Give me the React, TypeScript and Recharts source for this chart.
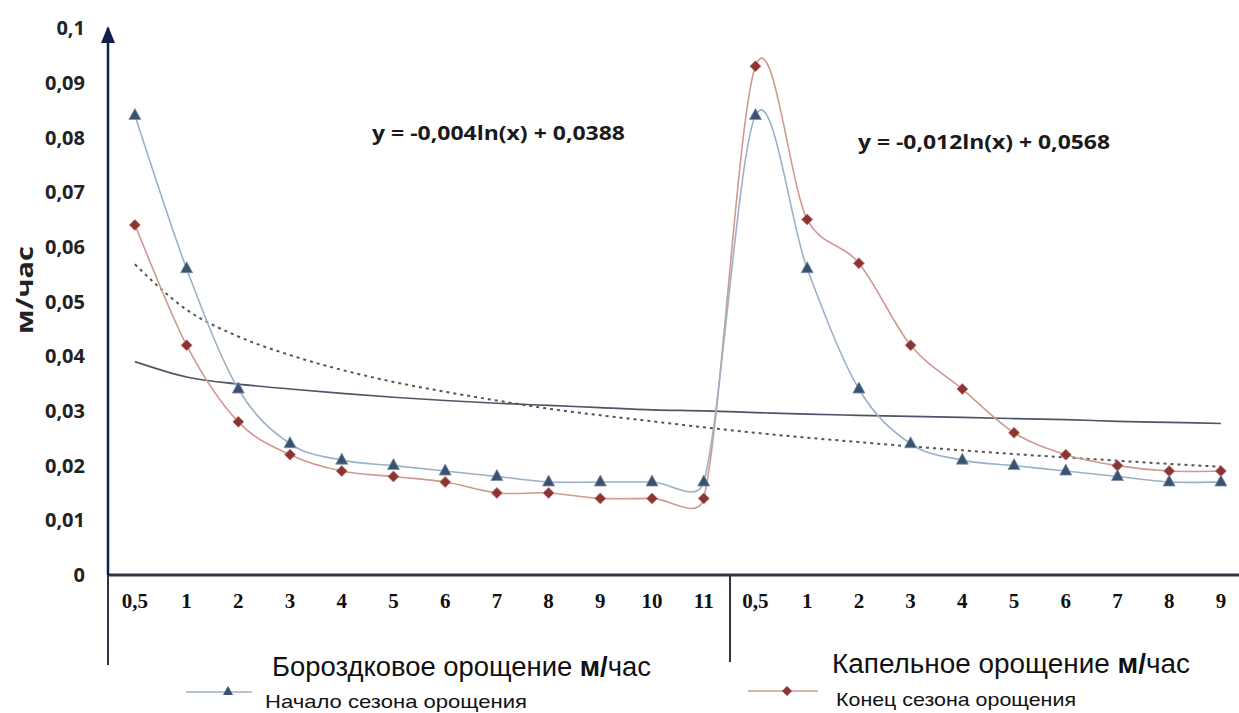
import { LineChart, Line, XAxis, YAxis } from 'recharts';

// x positions: two groups of hours (furrow 0,5..11 / drip 0,5..9)
const X_LABELS = ['0,5', '1', '2', '3', '4', '5', '6', '7', '8', '9', '10', '11', '0,5', '1', '2', '3', '4', '5', '6', '7', '8', '9'];
const IDX = X_LABELS.map((_, i) => i);

// start of irrigation season (triangles)
const START = [0.084, 0.056, 0.034, 0.024, 0.021, 0.02, 0.019, 0.018, 0.017, 0.017, 0.017, 0.017, 0.084, 0.056, 0.034, 0.024, 0.021, 0.02, 0.019, 0.018, 0.017, 0.017];
// end of irrigation season (diamonds)
const END = [0.064, 0.042, 0.028, 0.022, 0.019, 0.018, 0.017, 0.015, 0.015, 0.014, 0.014, 0.014, 0.093, 0.065, 0.057, 0.042, 0.034, 0.026, 0.022, 0.02, 0.019, 0.019];
// trend lines
const TREND_SOLID = [0.039, 0.0362, 0.0349, 0.034, 0.0332, 0.0325, 0.0319, 0.0314, 0.031, 0.0306, 0.0302, 0.03, 0.0297, 0.0294, 0.0292, 0.029, 0.0288, 0.0286, 0.0284, 0.0281, 0.0279, 0.0277];
const TREND_DASHED = [0.0568, 0.0485, 0.0436, 0.0402, 0.0375, 0.0353, 0.0335, 0.0319, 0.0304, 0.0292, 0.0281, 0.027, 0.026, 0.0251, 0.0243, 0.0235, 0.0228, 0.0221, 0.0215, 0.0209, 0.0203, 0.0198];

const Y_TICKS = [0, 0.01, 0.02, 0.03, 0.04, 0.05, 0.06, 0.07, 0.08, 0.09, 0.1];

const data = IDX.map((i) => ({
  idx: i,
  start: START[i],
  end: END[i],
  trendSolid: TREND_SOLID[i],
  trendDashed: TREND_DASHED[i],
}));

// Excel-like smoothing: Catmull-Rom with control arms capped by the segment length
const smooth = (context: any) => {
  let pts: [number, number][] = [];
  const arm = (dx: number, dy: number, max: number): [number, number] => {
    const len = Math.hypot(dx, dy);
    if (len <= max || len === 0) return [dx, dy];
    return [(dx * max) / len, (dy * max) / len];
  };
  return {
    areaStart() {},
    areaEnd() {},
    lineStart() {
      pts = [];
    },
    point(x: number, y: number) {
      pts.push([+x, +y]);
    },
    lineEnd() {
      const n = pts.length;
      if (!n) return;
      context.moveTo(pts[0][0], pts[0][1]);
      for (let i = 0; i < n - 1; i++) {
        const p0 = pts[i - 1] || pts[i];
        const p1 = pts[i];
        const p2 = pts[i + 1];
        const p3 = pts[i + 2] || p2;
        const seg = Math.hypot(p2[0] - p1[0], p2[1] - p1[1]) * 0.45;
        const a = arm((p2[0] - p0[0]) / 6, (p2[1] - p0[1]) / 6, seg);
        const b = arm((p3[0] - p1[0]) / 6, (p3[1] - p1[1]) / 6, seg);
        context.bezierCurveTo(p1[0] + a[0], p1[1] + a[1], p2[0] - b[0], p2[1] - b[1], p2[0], p2[1]);
      }
    },
  };
};

const fmtY = (v: number) => (v === 0 ? '0' : v.toFixed(2).replace(/0$/, '').replace('.', ','));

const triangleDot = (props: any) => {
  const { cx, cy, index } = props;
  return (
    <path
      key={`t${index}`}
      d={`M${cx},${cy - 7} L${cx + 6},${cy + 4} L${cx - 6},${cy + 4} Z`}
      fill="#38526f"
      stroke="#7890aa"
      strokeWidth={0.8}
    />
  );
};

const diamondDot = (props: any) => {
  const { cx, cy, index } = props;
  return (
    <path
      key={`d${index}`}
      d={`M${cx},${cy - 5.5} L${cx + 5.5},${cy} L${cx},${cy + 5.5} L${cx - 5.5},${cy} Z`}
      fill="#8a3434"
      stroke="#c07a74"
      strokeWidth={0.8}
    />
  );
};

export default function App() {
  return (
    <div style={{ position: 'absolute', left: 0, top: 0, width: 1239, height: 713, background: '#fff' }}>
      <LineChart width={1239} height={713} data={data} margin={{ top: 28, right: 0, bottom: 0, left: 0 }}>
        <XAxis
          type="number"
          dataKey="idx"
          domain={[-0.52, 21.35]}
          ticks={IDX}
          interval={0}
          tickFormatter={(i: number) => X_LABELS[i] ?? ''}
          height={138}
          tickLine={false}
          tickMargin={12}
          axisLine={{ stroke: '#2b3440', strokeWidth: 3 }}
          tick={{ fontFamily: 'Liberation Serif, serif', fontWeight: 700, fontSize: 21, fill: '#111' }}
        />
        <YAxis
          type="number"
          domain={[0, 0.1]}
          ticks={Y_TICKS}
          interval={0}
          width={108}
          tickLine={false}
          tickMargin={17}
          tickFormatter={fmtY}
          axisLine={{ stroke: '#10204a', strokeWidth: 2.5 }}
          tick={{ fontFamily: 'Open Sans, sans-serif', fontWeight: 700, fontSize: 20, fill: '#222' }}
        />
        <Line dataKey="trendSolid" type="monotone" stroke="#4c5668" strokeWidth={1.7} dot={false} isAnimationActive={false} />
        <Line dataKey="trendDashed" type="monotone" stroke="#555" strokeWidth={2} strokeDasharray="3 4" dot={false} isAnimationActive={false} />
        <Line dataKey="end" type={smooth as any} stroke="#d09a92" strokeWidth={1.6} dot={diamondDot} isAnimationActive={false} />
        <Line dataKey="start" type={smooth as any} stroke="#9cb1c7" strokeWidth={1.6} dot={triangleDot} isAnimationActive={false} />
      </LineChart>
      <svg width={1239} height={713} style={{ position: 'absolute', left: 0, top: 0, pointerEvents: 'none' }}>
        <polygon points="108,26 101,43 115,43" fill="#10204a" />
        <line x1={108} y1={575} x2={108} y2={665} stroke="#2b3440" strokeWidth={2} />
        <line x1={730} y1={575} x2={730} y2={662} stroke="#2b3440" strokeWidth={2} />
        <text x={24} y={290} transform="rotate(-90 24 290)" textAnchor="middle" dominantBaseline="central" fontFamily="Open Sans, sans-serif" fontWeight={700} fontSize={23} fill="#222" textLength={88} lengthAdjust="spacingAndGlyphs">
          м/час
        </text>
        <text x={372} y={140} fontFamily="Open Sans, sans-serif" fontWeight={700} fontSize={20} fill="#1a1a1a" textLength={253} lengthAdjust="spacingAndGlyphs">
          y = -0,004ln(x) + 0,0388
        </text>
        <text x={858} y={149} fontFamily="Open Sans, sans-serif" fontWeight={700} fontSize={20} fill="#1a1a1a" textLength={252} lengthAdjust="spacingAndGlyphs">
          y = -0,012ln(x) + 0,0568
        </text>
        <line x1={186} y1={692} x2={252} y2={692} stroke="#9cb1c7" strokeWidth={1.6} />
        <path d="M228,686 L233,695 L223,695 Z" fill="#38526f" />
        <line x1={748} y1={691} x2={818} y2={691} stroke="#d09a92" strokeWidth={1.6} />
        <path d="M787,686 L792,691 L787,696 L782,691 Z" fill="#8a3434" />
        <text x={272} y={676} fontFamily="Liberation Sans, Arial, sans-serif" fontSize={27} fill="#111" textLength={379} lengthAdjust="spacingAndGlyphs">
          Бороздковое орощение <tspan fontWeight={700}>м/</tspan>час
        </text>
        <text x={265} y={708} fontFamily="Liberation Sans, Arial, sans-serif" fontSize={19} fill="#111" textLength={262} lengthAdjust="spacingAndGlyphs">
          Начало сезона орощения
        </text>
        <text x={832} y={673} fontFamily="Liberation Sans, Arial, sans-serif" fontSize={27} fill="#111" textLength={358} lengthAdjust="spacingAndGlyphs">
          Капельное  орощение <tspan fontWeight={700}>м/</tspan>час
        </text>
        <text x={836} y={706} fontFamily="Liberation Sans, Arial, sans-serif" fontSize={19} fill="#111" textLength={240} lengthAdjust="spacingAndGlyphs">
          Конец сезона орощения
        </text>
      </svg>
    </div>
  );
}
